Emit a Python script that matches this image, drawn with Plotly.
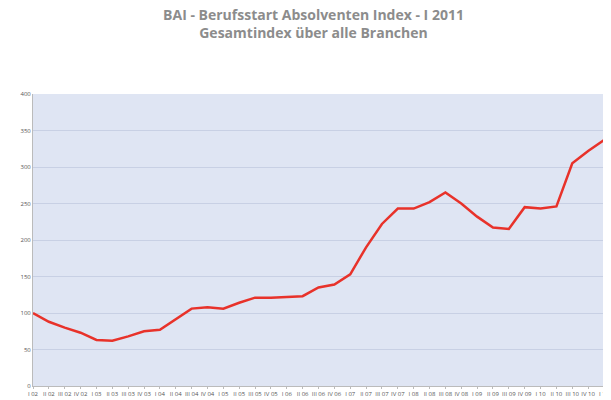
import plotly.graph_objects as go

years = ['02', '03', '04', '05', '06', '07', '08', '09', '10']
quarters = []
for y in years:
    for q in ['I', 'II', 'III', 'IV']:
        quarters.append(q + ' ' + y)
quarters.append('I 11')

index_values = [100, 88, 80, 73, 63, 62, 68, 75, 77, 92, 106, 108, 106, 114,
                121, 121, 122, 123, 135, 139, 153, 190, 222, 243, 243, 252, 265,
                250, 232, 217, 215, 245, 243, 246, 305, 322, 337]

fig = go.Figure()
fig.add_trace(go.Scatter(x=quarters, y=index_values, mode='lines',
                         line=dict(color='#e8322a', width=2.5)))

fig.update_layout(
    width=611, height=400,
    paper_bgcolor='white',
    plot_bgcolor='#dfe5f3',
    margin=dict(l=25, r=10, t=86, b=20),
    title=dict(text='<b>BAI - Berufsstart Absolventen Index - I 2011<br>Gesamtindex über alle Branchen</b>',
               x=0.5, y=0.97, xanchor='center', yanchor='top',
               font=dict(family='Open Sans', size=14, color='#8c8c8c')),
    showlegend=False,
    xaxis=dict(tickfont=dict(size=6, color='#555'), tickangle=0, showgrid=False,
               linecolor='#bbb', ticks='outside', ticklen=2, tickcolor='#bbb'),
    yaxis=dict(range=[0, 400], dtick=50, tickfont=dict(size=6, color='#555'),
               gridcolor='#c8d0e4', zeroline=False, linecolor='#bbb'),
)
fig.write_html("out.html")
